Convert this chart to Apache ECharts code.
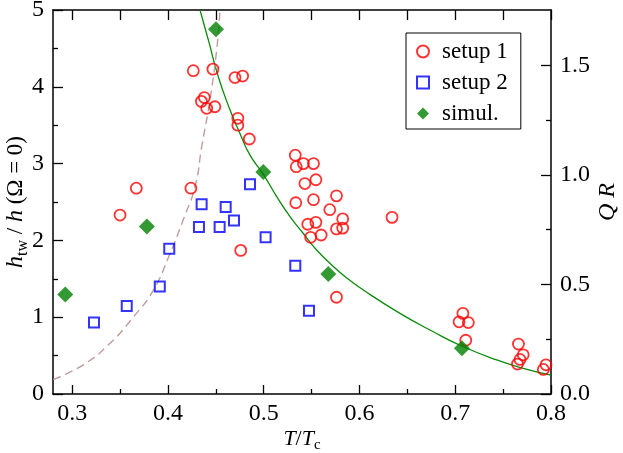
<!DOCTYPE html>
<html>
<head>
<meta charset="utf-8">
<script src="https://cdn.jsdelivr.net/npm/echarts@6/dist/echarts.min.js"></script>
<style>
  html, body { margin: 0; padding: 0; background: #fff; }
  #chart { width: 623px; height: 453px; }
</style>
</head>
<body>
<div id="chart"></div>
<script>
// measured points, [T/Tc, h_tw/h]
const setup1 = [
  [0.350, 2.33], [0.367, 2.68], [0.424, 2.68], [0.4265, 4.21], [0.447, 4.23],
  [0.438, 3.86], [0.435, 3.81], [0.4405, 3.72], [0.449, 3.74], [0.470, 4.12],
  [0.478, 4.14], [0.473, 3.59], [0.473, 3.50], [0.485, 3.32], [0.533, 3.11],
  [0.534, 2.96], [0.5415, 3.00], [0.552, 3.00], [0.543, 2.74], [0.5545, 2.79],
  [0.5335, 2.49], [0.552, 2.53], [0.576, 2.58], [0.569, 2.40], [0.5825, 2.28],
  [0.546, 2.21], [0.5545, 2.235], [0.576, 2.15], [0.5825, 2.16], [0.549, 2.04],
  [0.560, 2.07], [0.476, 1.87], [0.576, 1.26], [0.634, 2.30], [0.708, 1.05],
  [0.704, 0.94], [0.7137, 0.93], [0.711, 0.70], [0.766, 0.65], [0.771, 0.51],
  [0.7676, 0.45], [0.765, 0.39], [0.792, 0.32], [0.7948, 0.38]
]
const setup2 = [
  [0.3228, 0.93], [0.357, 1.146], [0.3915, 1.40], [0.4014, 1.89], [0.4352, 2.47],
  [0.4603, 2.435], [0.469, 2.26], [0.4324, 2.175], [0.454, 2.175], [0.4857, 2.73],
  [0.502, 2.04], [0.533, 1.67], [0.5473, 1.085]
]
const simul = [
  [0.2928, 1.295], [0.378, 2.18], [0.4502, 4.75], [0.4996, 2.89], [0.5675, 1.5625], [0.707, 0.595]
]
// solid green theory curve
const theory = [
  [0.4335, 5.0], [0.4422, 4.61], [0.4526, 4.13], [0.4648, 3.70], [0.4753, 3.39],
  [0.4857, 3.11], [0.4996, 2.86], [0.5136, 2.57], [0.5275, 2.31], [0.5414, 2.09],
  [0.5553, 1.875], [0.5727, 1.66], [0.5867, 1.51], [0.604, 1.354], [0.6423, 1.05],
  [0.6771, 0.81], [0.7067, 0.625], [0.7433, 0.443], [0.771, 0.335], [0.80, 0.245]
]
// dashed brownish curve
const dashed = [
  [0.2803, 0.19], [0.3116, 0.38], [0.3395, 0.66], [0.3638, 1.0], [0.3847, 1.35],
  [0.4022, 1.83], [0.416, 2.27], [0.4283, 2.7], [0.4353, 3.22], [0.4439, 3.83],
  [0.4509, 4.48], [0.4544, 5.0]
]

const xMajor = [0.3, 0.4, 0.5, 0.6, 0.7, 0.8]
const xMinor = [0.35, 0.45, 0.55, 0.65, 0.75]
const qrMajor = [0, 0.5, 1.0, 1.5]
const qrMinor = [0.25, 0.75, 1.25]

const FONT = 'Liberation Serif'
const chart = echarts.init(document.getElementById('chart'))

const labelStyle = { fontFamily: FONT, fontSize: 24, color: '#000' }
const lineBlack = { color: '#000', width: 1.5 }
const tickLine = { color: '#000', width: 1.3 }
const gridBox = { left: 53, right: 72, top: 10, bottom: 59, outerBoundsMode: 'none' }

const option = {
  animation: false,
  // grid 0 holds data + labelled axes, grid 1 only the extra tick rows / top frame
  grid: [Object.assign({}, gridBox), Object.assign({}, gridBox)],
  legend: {
    orient: 'vertical',
    left: 406,
    top: 33,
    padding: [7, 13, 4, 10],
    itemGap: 8,
    itemWidth: 12,
    itemHeight: 12,
    borderColor: '#000',
    borderWidth: 1,
    backgroundColor: '#fff',
    textStyle: { fontFamily: FONT, fontSize: 23, color: '#000', padding: [0, 0, 0, 8] },
    data: ['setup 1', 'setup 2', 'simul.']
  },
  xAxis: [
    {
      gridIndex: 0, type: 'value', min: 0.28, max: 0.8, position: 'bottom',
      axisLine: { lineStyle: lineBlack },
      axisTick: { inside: true, length: 9, customValues: xMajor, lineStyle: tickLine },
      axisLabel: Object.assign({ margin: 8, customValues: xMajor, formatter: v => v.toFixed(1) }, labelStyle),
      splitLine: { show: false },
      name: '{i|T}{n|/}{i|T}{sub|c}',
      nameLocation: 'middle',
      nameGap: 31,
      nameMoveOverlap: false,
      nameTextStyle: {
        rich: {
          i: { fontFamily: FONT, fontStyle: 'italic', fontSize: 22, color: '#000', lineHeight: 28, verticalAlign: 'middle' },
          n: { fontFamily: FONT, fontSize: 22, color: '#000', lineHeight: 28, verticalAlign: 'middle' },
          sub: { fontFamily: FONT, fontSize: 15, color: '#000', lineHeight: 15, verticalAlign: 'bottom' }
        }
      }
    },
    {
      gridIndex: 1, type: 'value', min: 0.28, max: 0.8, position: 'bottom',
      axisLine: { show: false },
      axisTick: { inside: true, length: 5, customValues: xMinor, lineStyle: tickLine },
      axisLabel: { show: false },
      splitLine: { show: false }
    },
    {
      gridIndex: 1, type: 'value', min: 0.28, max: 0.8, position: 'top',
      axisLine: { lineStyle: lineBlack },
      axisTick: { inside: true, length: 10, customValues: xMajor.concat(xMinor), lineStyle: tickLine },
      axisLabel: { show: false },
      splitLine: { show: false }
    }
  ],
  yAxis: [
    {
      gridIndex: 0, type: 'value', min: 0, max: 5, interval: 1, position: 'left',
      axisLine: { lineStyle: lineBlack },
      axisTick: { inside: true, length: 10, lineStyle: tickLine },
      minorTick: { show: true, splitNumber: 2, length: 5, lineStyle: tickLine },
      axisLabel: Object.assign({ margin: 9 }, labelStyle),
      splitLine: { show: false },
      name: '{i|h}{sub|tw}{n| / }{i|h}{n| (Ω = 0)}',
      nameLocation: 'middle',
      nameRotate: 90,
      nameGap: 22,
      nameMoveOverlap: false,
      nameTextStyle: {
        rich: {
          i: { fontFamily: FONT, fontStyle: 'italic', fontSize: 24, color: '#000', lineHeight: 30, verticalAlign: 'middle' },
          n: { fontFamily: FONT, fontSize: 23, color: '#000', lineHeight: 30, verticalAlign: 'middle' },
          sub: { fontFamily: FONT, fontSize: 16, color: '#000', lineHeight: 16, verticalAlign: 'bottom' }
        }
      }
    },
    {
      gridIndex: 0, type: 'value', min: 0, max: 1.7534, position: 'right',
      axisLine: { lineStyle: lineBlack },
      axisTick: { inside: true, length: 10, customValues: qrMajor, lineStyle: tickLine },
      axisLabel: Object.assign({ margin: 9, customValues: qrMajor, formatter: v => v.toFixed(1) }, labelStyle),
      splitLine: { show: false },
      name: 'Q R',
      nameLocation: 'middle',
      nameRotate: 90,
      nameGap: 45,
      nameMoveOverlap: false,
      nameTextStyle: { fontFamily: FONT, fontStyle: 'italic', fontSize: 24, color: '#000' }
    },
    {
      gridIndex: 1, type: 'value', min: 0, max: 1.7534, position: 'right',
      axisLine: { show: false },
      axisTick: { inside: true, length: 5, customValues: qrMinor, lineStyle: tickLine },
      axisLabel: { show: false },
      splitLine: { show: false }
    }
  ],
  series: [
    {
      name: 'theory', type: 'line', data: theory, smooth: true, showSymbol: false,
      lineStyle: { color: '#0a8a0a', width: 1.3 }, z: 1
    },
    {
      name: 'dashed', type: 'line', data: dashed, smooth: true, showSymbol: false,
      lineStyle: { color: '#c09c9c', width: 1.4, type: [8, 5] }, z: 1
    },
    {
      name: 'setup 1', type: 'scatter', data: setup1, symbol: 'circle', symbolSize: 11,
      itemStyle: { color: 'rgba(0,0,0,0)', borderColor: '#ff0000', borderWidth: 1.8 }
    },
    {
      name: 'setup 2', type: 'scatter', data: setup2, symbol: 'rect', symbolSize: 10,
      itemStyle: { color: 'rgba(0,0,0,0)', borderColor: '#0000ff', borderWidth: 2 }
    },
    {
      name: 'simul.', type: 'scatter', data: simul, symbol: 'diamond', symbolSize: [16, 16],
      itemStyle: { color: '#008000' }
    }
  ]
}

chart.setOption(option)
</script>
</body>
</html>
